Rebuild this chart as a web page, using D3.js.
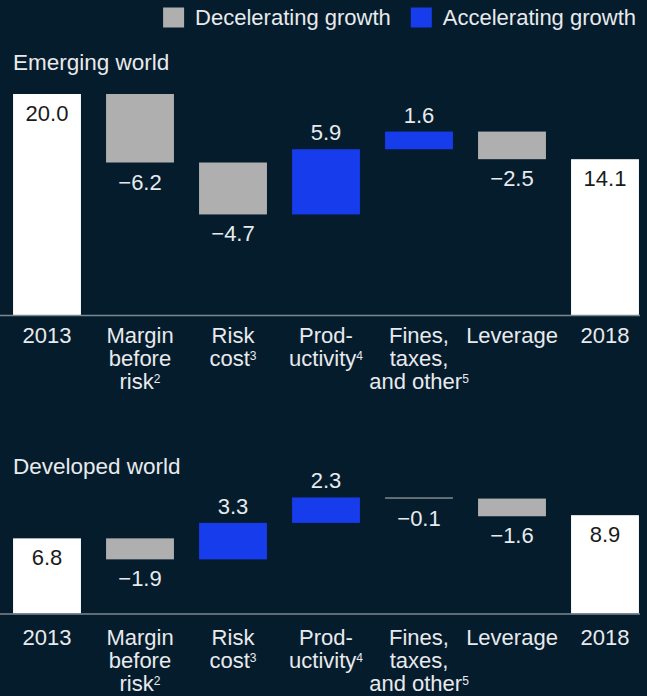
<!DOCTYPE html>
<html>
<head>
<meta charset="utf-8">
<script src="https://d3js.org/d3.v7.min.js"></script>
<style>
  body { margin: 0; background: #051c2c; }
  text { font-family: "Liberation Sans", Arial, sans-serif; }
</style>
</head>
<body>
<div id="chart"></div>
<script>
// data
var categories = ["2013", "Margin before risk", "Risk cost", "Productivity", "Fines, taxes, and other", "Leverage", "2018"];
var labelLines = [["2013"], ["Margin", "before", "risk"], ["Risk", "cost"], ["Prod-", "uctivity"], ["Fines,", "taxes,", "and other"], ["Leverage"], ["2018"]];
var footnotes = ["", "2", "3", "4", "5", "", ""];
var emergingValues = [20.0, -6.2, -4.7, 5.9, 1.6, -2.5, 14.1];
var developedValues = [6.8, -1.9, 3.3, 2.3, -0.1, -1.6, 8.9];
var legendLabels = ["Decelerating growth", "Accelerating growth"];

var width = 647, height = 696;
var colors = { total: "#ffffff", down: "#afafaf", up: "#163cec", text: "#e8eaed", axis: "#7d8790" };

var svg = d3.select("#chart").append("svg")
    .attr("width", width)
    .attr("height", height);

svg.append("rect").attr("width", width).attr("height", height).attr("fill", "#051c2c");

var x = d3.scaleBand()
    .domain(categories)
    .range([0.5, 651.5])
    .paddingInner(0.27)
    .paddingOuter(0.135);

// same units per pixel in both panels, drawn upward from each baseline
var y = d3.scaleLinear().domain([0, 20]).range([0, -221]);
var fmt = d3.format(".1f");

// legend, right aligned
var legend = svg.append("g");
var lx = 0;
legendLabels.forEach(function(lab, i) {
    var item = legend.append("g").attr("transform", "translate(" + lx + ",0)");
    item.append("rect")
        .attr("x", 0).attr("y", 7.5)
        .attr("width", 21).attr("height", 20)
        .attr("fill", i == 0 ? colors.down : colors.up);
    var t = item.append("text")
        .attr("x", 32).attr("y", 24.5)
        .attr("fill", colors.text)
        .style("font-size", "22px")
        .text(lab);
    lx += 32 + t.node().getComputedTextLength() + 20;
});
legend.attr("transform", "translate(" + (636 - (lx - 20)) + ",0)");

function drawPanel(title, values, baseline, titleY, labelOffset) {
    svg.append("text")
        .attr("x", 13).attr("y", titleY)
        .attr("fill", colors.text)
        .style("font-size", "22.5px")
        .text(title);

    var g = svg.append("g").attr("transform", "translate(0," + baseline + ")");

    // running totals
    var run = 0;
    var bars = values.map(function(v, i) {
        var last = i == values.length - 1;
        if (i == 0 || last) {
            run = v;
            return { cat: categories[i], v: v, lo: 0, hi: v, type: "total" };
        }
        var start = run;
        run = run + v;
        return { cat: categories[i], v: v, lo: Math.min(start, run), hi: Math.max(start, run), type: v < 0 ? "down" : "up" };
    });

    g.selectAll(".bar")
        .data(bars)
        .enter()
        .append("rect")
        .attr("x", function(d) { return x(d.cat); })
        .attr("y", function(d) { return y(d.hi); })
        .attr("width", x.bandwidth())
        .attr("height", function(d) { return y(d.lo) - y(d.hi); })
        .attr("fill", function(d) { return colors[d.type]; });

    g.selectAll(".val")
        .data(bars)
        .enter()
        .append("text")
        .attr("x", function(d) { return x(d.cat) + x.bandwidth() / 2; })
        .attr("y", function(d) {
            if (d.type == "total") return y(d.hi) + 27;
            if (d.type == "up") return y(d.hi) - 9;
            return y(d.lo) + 27;
        })
        .attr("text-anchor", "middle")
        .attr("fill", function(d) { return d.type == "total" ? "#1b1b1b" : colors.text; })
        .style("font-size", "22px")
        .text(function(d) { return fmt(d.v); });

    g.append("line")
        .attr("x1", 0).attr("x2", 640)
        .attr("y1", 0.5).attr("y2", 0.5)
        .attr("stroke", colors.axis)
        .attr("stroke-width", 1.5);

    categories.forEach(function(c, i) {
        var lines = labelLines[i];
        lines.forEach(function(line, j) {
            var t = g.append("text")
                .attr("x", x(c) + x.bandwidth() / 2)
                .attr("y", labelOffset + j * 23)
                .attr("text-anchor", "middle")
                .attr("fill", colors.text)
                .style("font-size", "22px");
            t.append("tspan").text(line);
            if (j == lines.length - 1 && footnotes[i]) {
                t.append("tspan")
                    .attr("dy", -6)
                    .style("font-size", "12px")
                    .text(footnotes[i]);
            }
        });
    });
}

drawPanel("Emerging world", emergingValues, 315, 70, 27.5);
drawPanel("Developed world", developedValues, 613.5, 474, 31.5);
</script>
</body>
</html>
